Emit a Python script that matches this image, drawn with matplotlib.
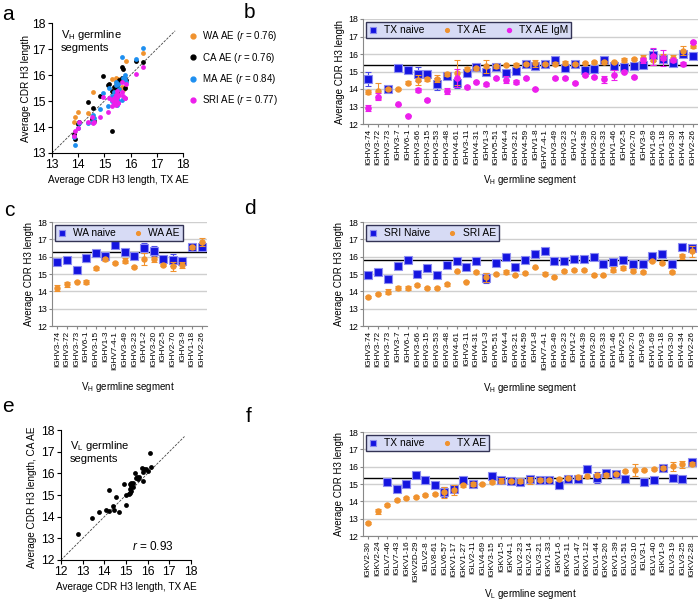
import numpy as np
import matplotlib
matplotlib.use("Agg")
import matplotlib.pyplot as plt
from matplotlib.lines import Line2D

plt.rcParams['font.family'] = ['Liberation Sans', 'DejaVu Sans']
plt.rcParams['mathtext.fontset'] = 'custom'
plt.rcParams['mathtext.rm'] = 'Liberation Sans'
plt.rcParams['mathtext.it'] = 'Liberation Sans:italic'

BLUE = '#1414e0'
ORANGE = '#f0922e'
MAGENTA = '#ec1fec'

# ---- V_H genes (panels b, d; a uses them too) ----
vh_genes = ['IGHV3-74', 'IGHV3-72', 'IGHV3-73', 'IGHV3-7', 'IGHV6-1', 'IGHV3-66', 'IGHV3-15',
            'IGHV3-53', 'IGHV3-48', 'IGHV4-61', 'IGHV3-11', 'IGHV4-31', 'IGHV1-3', 'IGHV5-51',
            'IGHV4-4', 'IGHV3-21', 'IGHV4-59', 'IGHV1-8', 'IGHV7-4-1', 'IGHV3-49', 'IGHV3-23',
            'IGHV1-2', 'IGHV4-39', 'IGHV3-20', 'IGHV3-33', 'IGHV1-46', 'IGHV2-5', 'IGHV2-70',
            'IGHV3-9', 'IGHV1-69', 'IGHV1-18', 'IGHV3-30', 'IGHV4-34', 'IGHV2-26']

tx_naive = [14.58, np.nan, 13.98, 15.19, 15.06, 14.87, 14.88, 14.29, 14.75, 14.33, 14.94, 15.23,
            15.0, 15.25, 14.94, 15.02, 15.44, 15.29, 15.44, 15.67, 15.19, 15.44, 15.1, 15.15,
            15.63, 15.29, 15.25, 15.33, 15.38, 15.96, 15.71, 15.48, 16.02, 15.9]
tx_naive_err = [0.4, 0, 0.08, 0.15, 0.15, 0.4, 0.1, 0.35, 0.15, 0.3, 0.1, 0.1,
                0.1, 0.08, 0.1, 0.08, 0.08, 0.2, 0.08, 0.08, 0.1, 0.08, 0.12, 0.08,
                0.08, 0.12, 0.15, 0.08, 0.15, 0.35, 0.25, 0.15, 0.12, 0.1]
tx_ae = [13.83, 13.88, 13.98, 14.02, 14.37, 14.52, 14.56, 14.6, 14.85, 14.94, 15.15, 15.19,
         15.29, 15.29, 15.35, 15.38, 15.44, 15.48, 15.44, 15.44, 15.48, 15.44, 15.48, 15.52,
         15.52, 15.54, 15.67, 15.71, 15.77, 15.67, 15.83, 15.77, 16.19, 16.48]
tx_ae_err = [0.1, 0.45, 0.05, 0.05, 0.08, 0.3, 0.1, 0.2, 0.1, 0.7, 0.08, 0.08,
             0.35, 0.08, 0.05, 0.08, 0.05, 0.2, 0.05, 0.08, 0.1, 0.05, 0.06, 0.06,
             0.1, 0.06, 0.1, 0.06, 0.15, 0.3, 0.15, 0.15, 0.25, 0.15]
tx_igm = [12.92, 13.56, np.nan, 13.12, 12.48, 13.94, 13.37, np.nan, 13.88, 14.62, 14.13, 14.42,
          14.27, 14.65, 14.52, 14.42, 14.63, 14.02, np.nan, 14.62, 14.62, 14.33, 14.81, 14.71,
          14.56, 14.81, 15.0, 14.71, 15.63, 15.87, 15.77, 15.63, 15.44, 16.69]
tx_igm_err = [0.15, 0.2, 0, 0.05, 0.05, 0.1, 0.08, 0, 0.15, 0.5, 0.05, 0.06,
              0.08, 0.06, 0.2, 0.12, 0.05, 0.05, 0, 0.05, 0.06, 0.06, 0.08, 0.06,
              0.2, 0.3, 0.1, 0.06, 0.15, 0.5, 0.45, 0.1, 0.1, 0.08]

sri_naive = [14.96, 15.1, 14.73, 15.44, 15.83, 15.0, 15.35, 14.96, 15.5, 15.73, 15.42, 15.77,
             14.77, 15.64, 15.98, 15.42, 15.83, 16.15, 16.35, 15.77, 15.73, 15.88, 15.87, 15.96,
             15.58, 15.7, 15.81, 15.58, 15.6, 16.06, 16.17, 15.58, 16.56, 16.48]
sri_ae = [13.67, 13.86, 13.98, 14.19, 14.19, 14.38, 14.17, 14.21, 14.4, 15.15, 14.56, 15.12,
          14.8, 15.02, 15.1, 14.92, 15.06, 15.38, 15.02, 14.83, 15.17, 15.23, 15.23, 14.92,
          14.92, 15.25, 15.35, 15.19, 15.13, 15.73, 15.64, 15.13, 16.02, 16.3]
sri_naive_err = [0.05] * 12 + [0.3] + [0.05] * 5 + [0.15] + [0.05] * 15
sri_ae_err = [0.08, 0.05, 0.15, 0.1, 0.12, 0.05, 0.06, 0.06, 0.08, 0.05, 0.05, 0.05,
              0.25, 0.05, 0.12, 0.05, 0.05, 0.05, 0.08, 0.05, 0.05, 0.05, 0.06, 0.06,
              0.05, 0.15, 0.1, 0.08, 0.05, 0.05, 0.05, 0.05, 0.15, 0.3]

# ---- panel c ----
wa_genes = ['IGHV3-74', 'IGHV3-72', 'IGHV3-73', 'IGHV6-1', 'IGHV3-15', 'IGHV1-3', 'IGHV7-4-1',
            'IGHV3-49', 'IGHV3-23', 'IGHV1-2', 'IGHV3-20', 'IGHV2-5', 'IGHV2-70', 'IGHV3-9',
            'IGHV1-18', 'IGHV2-26']
wa_naive = [15.67, 15.82, 15.25, 15.92, 16.2, 16.04, 16.65, 16.29, 16.06, 16.5, 16.33, 15.88,
            15.82, 15.77, 16.54, 16.58]
wa_naive_err = [0.15, 0.12, 0.08, 0.2, 0.12, 0.08, 0.05, 0.15, 0.08, 0.3, 0.3, 0.05,
                0.35, 0.08, 0.1, 0.25]
wa_ae = [14.19, 14.4, 14.56, 14.54, 15.33, 15.85, 15.65, 15.77, 15.4, 15.88, 15.85, 15.54,
         15.44, 15.52, 16.54, 16.85]
wa_ae_err = [0.15, 0.15, 0.05, 0.1, 0.1, 0.08, 0.05, 0.15, 0.05, 0.35, 0.15, 0.05,
             0.25, 0.15, 0.1, 0.25]

# ---- panel a: other populations vs TX AE (same V_H gene order) ----
ca_ae = [13.75, 13.55, 14.1, 14.2, 14.95, 14.3, 14.75, 14.25, 15.2, 15.95, 15.6, 15.65,
         13.85, 15.4, 15.55, 15.15, 15.3, 15.6, 15.05, 15.45, 15.7, 15.5, 15.35, 15.75,
         15.45, 15.8, 16.3, 16.25, 15.85, 15.9, 15.8, 15.5, 16.55, 16.5]
ma_ae = [13.6, 13.3, 13.95, 14.15, 14.15, 14.2, 14.45, 14.35, 14.7, 15.3, 14.8, 15.5,
         15.2, 15.0, 15.35, 14.9, 15.6, 15.1, 15.75, 15.05, 15.25, 15.15, 14.85, 15.65,
         15.0, 15.45, 16.7, 15.9, 16.0, 15.05, 15.75, 15.85, 16.6, 17.05]
r_values = {'WA': 0.76, 'CA': 0.76, 'MA': 0.84, 'SRI': 0.77}

# ---- V_L genes (panel f, e) ----
vl_genes = ['IGKV2-30', 'IGKV2-24', 'IGLV7-46', 'IGLV7-43', 'IGKV1-16', 'IGKV2D-29', 'IGLV2-8',
            'IGLV8-61', 'IGLV6-57', 'IGKV1-17', 'IGKV1-27', 'IGLV2-11', 'IGLV4-69', 'IGKV3-15',
            'IGKV1-5', 'IGKV4-1', 'IGLV2-23', 'IGLV2-14', 'IGLV3-21', 'IGKV1-33', 'IGKV1-6',
            'IGKV3-11', 'IGLV1-47', 'IGKV1-12', 'IGLV1-44', 'IGKV3-20', 'IGKV1-39', 'IGLV1-51',
            'IGLV3-10', 'IGLV3-1', 'IGLV1-40', 'IGKV1-9', 'IGLV3-19', 'IGLV3-25', 'IGKV2-28']
vl_naive = [np.nan, np.nan, 15.12, 14.69, 15.0, 15.54, 15.21, 14.92, 14.54, 14.73, 15.21, 15.02,
            np.nan, 15.46, 15.25, 15.19, 15.1, 15.31, 15.25, 15.21, 14.96, 15.29, 15.31, 15.85,
            15.37, 15.65, 15.6, 15.27, np.nan, 15.12, 15.25, 15.92, 15.33, 15.29, 16.27]
vl_naive_err = [0, 0, 0.05, 0.05, 0.15, 0.05, 0.05, 0.05, 0.3, 0.15, 0.15, 0.1,
                0, 0.15, 0.15, 0.08, 0.12, 0.1, 0.12, 0.08, 0.12, 0.08, 0.1, 0.2,
                0.3, 0.12, 0.05, 0.15, 0, 0.15, 0.15, 0.08, 0.12, 0.15, 0.08]
vl_ae = [12.77, 13.42, 13.77, 14.06, 14.21, 14.23, 14.38, 14.44, 14.52, 14.67, 14.92, 14.98,
         14.98, 15.12, 15.19, 15.19, 15.19, 15.21, 15.25, 15.25, 15.31, 15.33, 15.4, 15.44,
         15.5, 15.54, 15.6, 15.75, 15.79, 15.79, 15.85, 15.94, 16.02, 16.13, 16.17]
vl_ae_err = [0.05, 0.15, 0.05, 0.05, 0.05, 0.05, 0.05, 0.05, 0.3, 0.3, 0.08, 0.12,
             0.05, 0.05, 0.15, 0.05, 0.12, 0.2, 0.1, 0.05, 0.05, 0.05, 0.1, 0.05,
             0.1, 0.08, 0.05, 0.05, 0.35, 0.05, 0.05, 0.08, 0.25, 0.2, 0.08]
vl_ca_ae = [13.2, 13.95, 14.2, 14.3, 15.25, 14.25, 14.5, 14.3, 14.9, 14.2, 15.5, 14.55,
            15.0, 15.05, 15.3, 15.1, 15.5, 15.2, 15.55, 15.4, 15.35, 15.55, 16.0, 15.8,
            15.85, 15.75, 15.85, 16.25, 15.65, 16.05, 16.2, 16.2, 16.1, 16.95, 16.3]

mean_b, mean_c, mean_d, mean_f = 15.37, 16.25, 15.8, 15.36

W, H = 698, 602
fig = plt.figure(figsize=(W / 100, H / 100), dpi=100)


def add_ax(left, top, right, bottom):
    return fig.add_axes([left / W, 1 - bottom / H, (right - left) / W, (bottom - top) / H])


def ftext(x, y, s, **kw):
    fig.text(x / W, 1 - y / H, s, **kw)


def style_cat(ax, genes, mean):
    n = len(genes)
    ax.set_xlim(-0.55, n - 0.45)
    ax.set_ylim(12, 18)
    ax.set_yticks(range(12, 19))
    ax.tick_params(axis='y', labelsize=6.3, length=2, color='#888888', pad=1.5)
    ax.set_xticks(range(n))
    ax.set_xticklabels(genes, rotation=90, fontsize=5.9)
    ax.tick_params(axis='x', length=2, color='#888888', pad=1.5)
    ax.grid(axis='y', color='#cfcfcf', lw=1)
    ax.set_axisbelow(True)
    for s in ['top', 'right']:
        ax.spines[s].set_visible(False)
    for s in ['left', 'bottom']:
        ax.spines[s].set_color('#888888')
        ax.spines[s].set_linewidth(0.8)
    ax.axhline(mean, color='black', lw=1, zorder=1.5)


def plot_blue(ax, y, err, label):
    x = np.arange(len(y))
    ax.errorbar(x, y, yerr=err, fmt='s', ms=5.5, color=BLUE, mec='#8c8cf0', mew=0.8,
                ecolor='#4a4ae6', elinewidth=0.8, capsize=2, capthick=0.8, label=label, zorder=3)


def plot_orange(ax, y, err, label):
    x = np.arange(len(y))
    ax.errorbar(x, y, yerr=err, fmt='o', ms=3.6, color=ORANGE, mec=ORANGE,
                ecolor=ORANGE, elinewidth=0.8, capsize=2, capthick=0.8, label=label, zorder=4)


def plot_magenta(ax, y, err, label):
    x = np.arange(len(y))
    ax.errorbar(x, y, yerr=err, fmt='o', ms=3.8, color=MAGENTA, mec=MAGENTA,
                ecolor=MAGENTA, elinewidth=0.8, capsize=2, capthick=0.8, label=label, zorder=5)


def cat_legend(ax, ncol):
    h, l = ax.get_legend_handles_labels()
    h = [hh[0] for hh in h]
    leg = ax.legend(h, l, loc='upper left', ncol=ncol, fontsize=7.4, frameon=True, fancybox=False,
                    handlelength=0.8, handletextpad=0.6, columnspacing=1.8, markerscale=0.75,
                    borderpad=0.3, borderaxespad=0.3, bbox_to_anchor=(0.0, 1.0))
    leg.get_frame().set_facecolor('#d7dbf5')
    leg.get_frame().set_edgecolor('#333355')
    leg.get_frame().set_linewidth(1)
    leg.get_frame().set_alpha(1)


def style_scatter(ax, lo):
    ax.set_xlim(lo, 18)
    ax.set_ylim(lo, 18)
    ax.set_xticks(range(lo, 19))
    ax.set_yticks(range(lo, 19))
    ax.tick_params(labelsize=8.8, length=3, width=0.8, pad=1.5)
    for s in ['top', 'right']:
        ax.spines[s].set_visible(False)
    ax.plot([lo, 17.7], [lo, 17.7], color='#444444', lw=0.6, ls=(0, (3, 1.5)), zorder=1)


# ---------- a ----------
ax_a = add_ax(52, 23, 183, 153)
style_scatter(ax_a, 13)
wa_x = [tx_ae[vh_genes.index(g)] for g in wa_genes]
ax_a.scatter(wa_x, wa_ae, s=12, color=ORANGE, zorder=3, lw=0)
ax_a.scatter(tx_ae, ca_ae, s=12, color='black', zorder=3, lw=0)
ax_a.scatter(tx_ae, ma_ae, s=12, color='#1e8ff0', zorder=3, lw=0)
ax_a.scatter(tx_ae, sri_ae, s=12, color=MAGENTA, zorder=3, lw=0)
ax_a.text(0.07, 0.96, 'V$_\\mathrm{H}$ germline\nsegments', transform=ax_a.transAxes,
          fontsize=8, va='top', ha='left', linespacing=1.1)
handles = []
for name, col in [('WA', ORANGE), ('CA', 'black'), ('MA', '#1e8ff0'), ('SRI', MAGENTA)]:
    handles.append(Line2D([], [], marker='o', ls='', ms=3.5, color=col,
                          label='%s AE ($\\it{r}$ = %.2f)' % (name, r_values[name])))
ax_a.legend(handles=handles, loc='upper left', bbox_to_anchor=(1.02, 0.98), frameon=False,
            fontsize=7, handlelength=0.8, handletextpad=0.5, labelspacing=0.75, borderaxespad=0)
ftext(118, 180, 'Average CDR H3 length, TX AE', fontsize=7.2, ha='center', va='center')
ftext(26, 88, 'Average CDR H3 length', fontsize=7.2, ha='center', va='center', rotation=90)

# ---------- b ----------
ax_b = add_ax(363, 19, 698, 124)
style_cat(ax_b, vh_genes, mean_b)
plot_blue(ax_b, tx_naive, tx_naive_err, 'TX naive')
plot_orange(ax_b, tx_ae, tx_ae_err, 'TX AE')
plot_magenta(ax_b, tx_igm, tx_igm_err, 'TX AE IgM')
cat_legend(ax_b, 3)
ftext(340, 72, 'Average CDR H3 length', fontsize=7, ha='center', va='center', rotation=90)
ftext(530, 180, 'V$_\\mathrm{H}$ germline segment', fontsize=7, ha='center', va='center')

# ---------- c ----------
ax_c = add_ax(52, 222, 207, 326)
style_cat(ax_c, wa_genes, mean_c)
plot_blue(ax_c, wa_naive, wa_naive_err, 'WA naive')
plot_orange(ax_c, wa_ae, wa_ae_err, 'WA AE')
cat_legend(ax_c, 2)
ftext(29, 274, 'Average CDR H3 length', fontsize=7, ha='center', va='center', rotation=90)
ftext(128, 387, 'V$_\\mathrm{H}$ germline segment', fontsize=7, ha='center', va='center')

# ---------- d ----------
ax_d = add_ax(363, 222, 697, 326)
style_cat(ax_d, vh_genes, mean_d)
plot_blue(ax_d, sri_naive, sri_naive_err, 'SRI Naive')
plot_orange(ax_d, sri_ae, sri_ae_err, 'SRI AE')
cat_legend(ax_d, 2)
ftext(339, 274, 'Average CDR H3 length', fontsize=7, ha='center', va='center', rotation=90)
ftext(530, 388, 'V$_\\mathrm{H}$ germline segment', fontsize=7, ha='center', va='center')

# ---------- e ----------
ax_e = add_ax(61, 430, 191, 560)
style_scatter(ax_e, 12)
ax_e.scatter(vl_ae, vl_ca_ae, s=12, color='black', zorder=3, lw=0)
ax_e.text(0.07, 0.93, 'V$_\\mathrm{L}$ germline\nsegments', transform=ax_e.transAxes,
          fontsize=8, va='top', ha='left', linespacing=1.1)
ax_e.text(0.55, 0.1, '$\\it{r}$ = 0.93', transform=ax_e.transAxes, fontsize=8.5,
          va='center', ha='left')
ftext(126, 587, 'Average CDR H3 length, TX AE', fontsize=7.2, ha='center', va='center')
ftext(32, 497, 'Average CDR H3 length, CA AE', fontsize=7.2, ha='center', va='center', rotation=90)

# ---------- f ----------
ax_f = add_ax(363, 432, 697, 536)
style_cat(ax_f, vl_genes, mean_f)
plot_blue(ax_f, vl_naive, vl_naive_err, 'TX naive')
plot_orange(ax_f, vl_ae, vl_ae_err, 'TX AE')
cat_legend(ax_f, 2)
ftext(339, 484, 'Average CDR H3 length', fontsize=7, ha='center', va='center', rotation=90)
ftext(530, 594, 'V$_\\mathrm{L}$ germline segment', fontsize=7, ha='center', va='center')

# panel letters
for lab, x, y in [('a', 2, 14), ('b', 244, 12), ('c', 4, 210), ('d', 244, 208),
                  ('e', 2, 407), ('f', 246, 417)]:
    ftext(x, y, lab, fontsize=15, ha='left', va='center')

fig.savefig('out.png', dpi=100)
